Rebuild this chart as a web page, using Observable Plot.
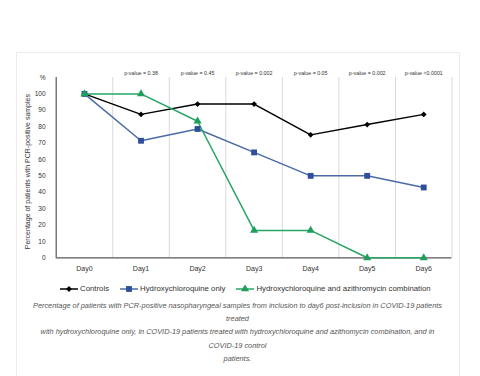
<!DOCTYPE html>
<html><head><meta charset="utf-8">
<script src="https://cdn.jsdelivr.net/npm/d3@7"></script>
<script src="https://cdn.jsdelivr.net/npm/@observablehq/plot@0.6"></script>
<style>
body{margin:0;background:#fff;font-family:"Liberation Sans",Arial,sans-serif;}
#card{position:absolute;left:15.5px;top:51.5px;width:444px;height:340px;border:1px solid #ececec;box-sizing:border-box;}
#chart{position:absolute;left:0;top:60px;}
#legend{position:absolute;left:60px;top:284px;display:flex;align-items:center;font-size:7.8px;color:#333;white-space:nowrap;}
.item{display:flex;align-items:center;margin-right:11px;}
.item svg{margin-right:2px;display:block;}
#caption{position:absolute;left:15.5px;width:444px;top:299px;text-align:center;font-style:italic;font-size:7.35px;color:#555;line-height:13.2px;white-space:nowrap;}
</style></head><body>
<div id="card"></div><div id="chart"></div><div id="legend"></div><div id="caption"></div>
<script>
const days = ["Day0","Day1","Day2","Day3","Day4","Day5","Day6"];
const controls = [100, 87.5, 93.8, 93.8, 75, 81.3, 87.5];
const hcqOnly = [100, 71.4, 78.6, 64.3, 50, 50, 42.9];
const hcqAzi = [100, 100, 83.3, 16.7, 16.7, 0, 0];
const pValues = ["", "p-value = 0.38", "p-value = 0.45", "p-value = 0.002", "p-value = 0.05", "p-value = 0.002", "p-value <0.0001"];
const seriesNames = ["Controls", "Hydroxychloroquine only", "Hydroxychloroquine and azithromycin combination"];
const yTicks = [0, 10, 20, 30, 40, 50, 60, 70, 80, 90, 100];
const yUnit = "%";
const yLabel = "Percentage of patients with PCR-positive samples";
const captionLines = [
  "Percentage of patients with PCR-positive nasopharyngeal samples from inclusion to day6 post-inclusion in COVID-19 patients",
  "treated",
  "with hydroxychloroquine only, in COVID-19 patients treated with hydroxychloroquine and azithomycin combination, and in",
  "COVID-19 control",
  "patients."
];

const seriesValues = [controls, hcqOnly, hcqAzi];
const lineColors = ["#000000", "#4a6ba6", "#27a566"];
const markColors = ["#000000", "#2f4f9a", "#1f9e5c"];
const symbols = ["diamond2", "square", "triangle"];
const radii = [2.6, 3.3, 3.0];

const yTop = 110;
const marks = [
  Plot.ruleX(days.map((d, i) => i + 0.5), {y1: 0, y2: yTop, stroke: "#d9d9d9", strokeWidth: 1}),
  Plot.ruleY([0], {stroke: "#595959", strokeWidth: 1.2}),
  Plot.ruleX([-0.5], {y1: 0, y2: yTop, stroke: "#595959", strokeWidth: 1.2}),
  Plot.axisY({ticks: yTicks.concat([yTop]), tickFormat: d => d === yTop ? yUnit : String(d), tickSize: 0, tickPadding: 10.5, fontSize: 6.6, fill: "#333", label: null}),
  Plot.axisX({ticks: days.map((d, i) => i), tickFormat: i => days[i], tickSize: 0, tickPadding: 8, fontSize: 7, fill: "#333", label: null}),
  Plot.text(days.map((d, i) => i), {x: d => d, y: yTop, text: i => pValues[i], dy: -4, fontSize: 5.3, fill: "#333"}),
  Plot.text([yLabel], {frameAnchor: "left", textAnchor: "middle", rotate: -90, dx: -28.7, dy: 4, fontSize: 7, fill: "#333"})
];
seriesNames.forEach((s, k) => {
  const rows = seriesValues[k].map((v, i) => ({day: i, value: v}));
  marks.push(Plot.line(rows, {x: "day", y: "value", stroke: lineColors[k], strokeWidth: 1.5}));
});
seriesNames.forEach((s, k) => {
  const rows = seriesValues[k].map((v, i) => ({day: i, value: v}));
  marks.push(Plot.dot(rows, {x: "day", y: "value", symbol: symbols[k], r: radii[k], fill: markColors[k], stroke: "none"}));
});

const plot = Plot.plot({
  width: 480, height: 220,
  marginLeft: 55.7, marginRight: 28.5, marginTop: 17, marginBottom: 22.7,
  style: {fontFamily: '"Liberation Sans", Arial, sans-serif', background: "transparent", overflow: "visible"},
  x: {domain: [-0.5, 6.5], axis: null},
  y: {domain: [0, yTop], axis: null},
  marks
});
document.getElementById("chart").appendChild(plot);

const legend = d3.select("#legend");
const symMap = {diamond2: d3.symbolDiamond2, square: d3.symbolSquare, triangle: d3.symbolTriangle};
seriesNames.forEach((s, k) => {
  const item = legend.append("div").attr("class", "item");
  const svg = item.append("svg").attr("width", 18).attr("height", 8);
  svg.append("line").attr("x1", 0).attr("x2", 18).attr("y1", 4).attr("y2", 4).attr("stroke", lineColors[k]).attr("stroke-width", 1.5);
  svg.append("path").attr("transform", "translate(9,4)")
    .attr("d", d3.symbol(symMap[symbols[k]], Math.PI * radii[k] * radii[k])()).attr("fill", markColors[k]);
  item.append("span").text(s);
});
const cap = d3.select("#caption");
captionLines.forEach(l => cap.append("div").text(l));
</script>
</body></html>
